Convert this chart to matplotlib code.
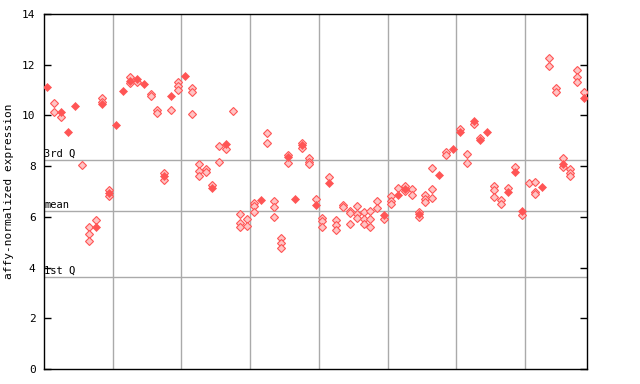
import numpy as np
import matplotlib
matplotlib.use("Agg")
import matplotlib.pyplot as plt

nan = np.nan
# filled marker value per sample (nan where no filled marker)
filled = [11.11, nan, 10.15, 9.35, 10.36, nan, nan, 5.59, 10.44, 6.95,
          9.61, 10.95, 11.37, 11.44, 11.25, nan, nan, 7.60, 10.78, nan,
          11.57, nan, nan, nan, 7.12, nan, 8.88, nan, nan, nan,
          nan, 6.68, nan, nan, nan, 8.35, 6.72, 8.85, nan, 6.48,
          nan, 7.35, nan, nan, nan, nan, nan, nan, nan, 6.06,
          nan, 6.87, 7.10, nan, 6.12, nan, nan, 7.67, nan, 8.68,
          9.33, nan, 9.78, 9.03, 9.36, nan, nan, 6.99, 7.78, 6.24,
          nan, nan, 7.19, nan, nan, 8.07, nan, nan, 10.70]

# open (replicate) marker values per sample
replicates = [
    [], [10.48, 10.12], [9.95], [], [], [8.03], [5.59, 5.31, 5.04], [5.86], [10.67, 10.54], [7.06, 6.83],
    [], [], [11.50, 11.28], [11.30], [], [10.85, 10.75], [10.22, 10.08], [7.72, 7.45], [10.20], [11.32, 11.16, 11.00],
    [], [11.07, 10.91, 10.04], [8.07, 7.80, 7.63], [7.87, 7.76], [7.26], [8.79, 8.16], [8.69], [10.17], [6.11, 5.74, 5.61], [5.90, 5.64],
    [6.53, 6.44, 6.20], [], [9.30, 8.90], [6.61, 6.38, 5.98], [5.15, 4.96, 4.76], [8.43, 8.11], [], [8.92, 8.72], [8.31, 8.18, 8.07], [6.69],
    [5.95, 5.85, 5.60], [7.56], [5.86, 5.67, 5.50], [6.46, 6.37], [6.23, 6.14, 5.71], [6.42, 6.12, 5.94], [6.18, 5.91, 5.71], [6.23, 5.91, 5.59], [6.61, 6.34], [5.93],
    [6.82, 6.64, 6.52], [7.14], [7.20, 7.03], [7.09, 6.85], [6.19, 6.01], [6.85, 6.71, 6.57], [7.91, 7.08, 6.73], [], [8.57, 8.44], [],
    [9.46], [8.47, 8.11], [9.65], [9.12], [], [7.20, 7.04, 6.80], [6.65, 6.49], [7.14], [7.95], [6.07],
    [7.33], [7.36, 7.00, 6.92], [], [12.26, 11.95], [11.09, 10.91], [8.31, 7.98], [7.87, 7.74, 7.60], [11.79, 11.50, 11.30], [10.91],
]

q3_val, mean_val, q1_val = 8.24, 6.23, 3.61
y_ticks = [0, 2, 4, 6, 8, 10, 12, 14]
group_size = 10

mono = "DejaVu Sans Mono"
red = "#ff5555"
grid_c = "#aaaaaa"

fig = plt.figure(figsize=(6.4, 3.84), dpi=100)
ax = fig.add_axes([44 / 640, 15 / 384, 543 / 640, 355 / 384])

n = len(filled)
xs = np.arange(n)

# grid lines
for b in np.arange(group_size - 0.5, n - 1, group_size):
    ax.axvline(b, color=grid_c, lw=1, zorder=1)
for v in (q3_val, mean_val, q1_val):
    ax.axhline(v, color=grid_c, lw=1, zorder=1)

# replicate (open) markers
rx = [i for i, r in enumerate(replicates) for _ in r]
ry = [v for r in replicates for v in r]
ax.plot(rx, ry, ls="none", marker="D", ms=3.6, mfc="#ffc4c4", mec=red, mew=0.8, zorder=3)

# filled markers
ax.plot(xs, filled, ls="none", marker="D", ms=4.2, mfc=red, mec=red, mew=0.5, zorder=4)

ax.set_xlim(-0.5, n - 0.5)
ax.set_ylim(0, 14)
ax.set_yticks(y_ticks)
ax.set_yticklabels([str(t) for t in y_ticks], fontfamily=mono, fontsize=8)
ax.set_xticks([])
ax.tick_params(axis="y", direction="in", length=5, width=1, right=True, labelright=False, pad=6)

for sp in ax.spines.values():
    sp.set_linewidth(1)
    sp.set_color("black")

for v, lab in ((q3_val, "3rd Q"), (mean_val, "mean"), (q1_val, "1st Q")):
    ax.text(-0.45, v + 0.05, lab, fontfamily=mono, fontsize=7.5, ha="left", va="bottom", zorder=5)

ax.set_ylabel("affy-normalized expression", fontfamily=mono, fontsize=8, labelpad=6)

fig.savefig("out.png", dpi=100)
